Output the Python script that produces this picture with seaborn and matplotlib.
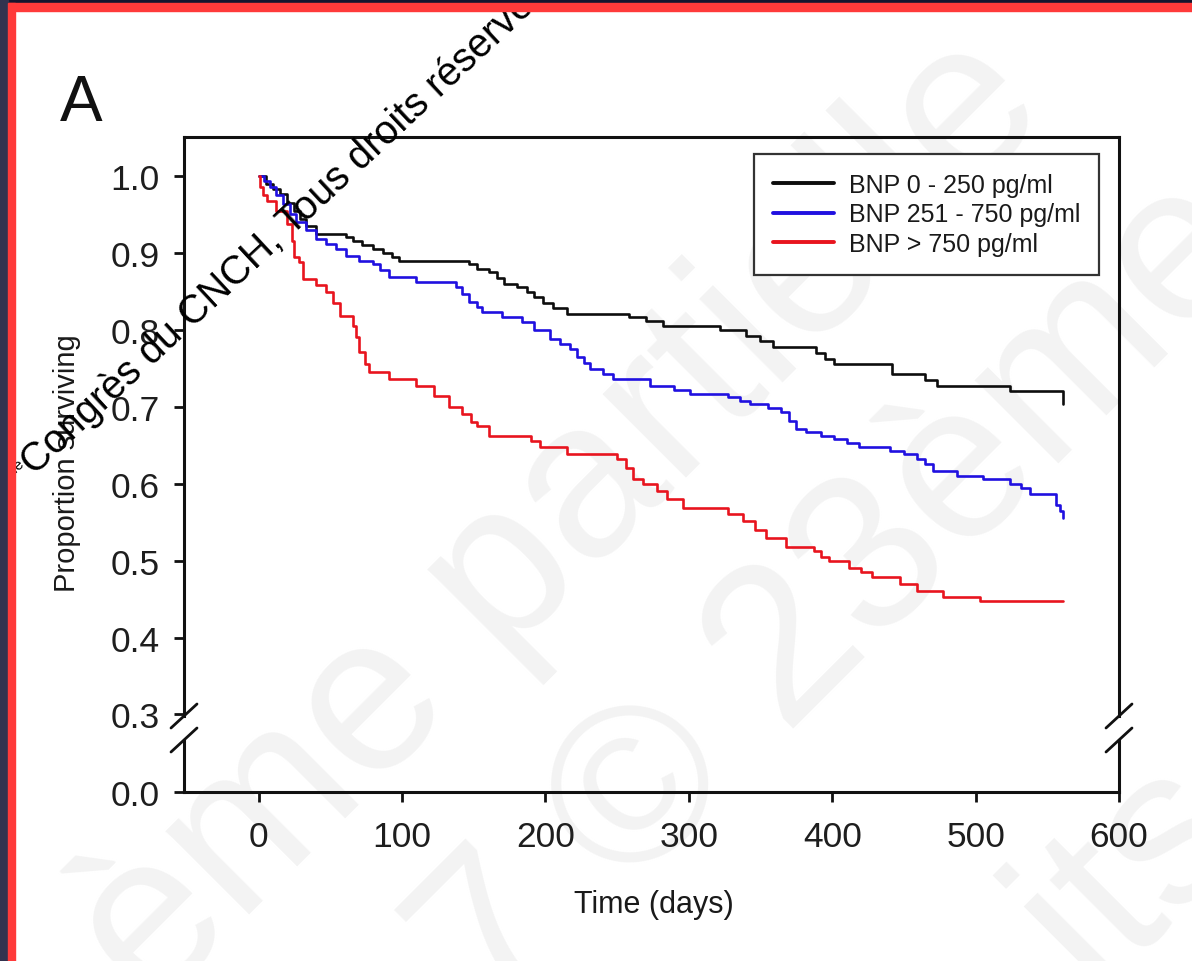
import matplotlib
matplotlib.use('Agg')
import matplotlib.pyplot as plt
from matplotlib.lines import Line2D
from matplotlib.patches import Rectangle
import pandas as pd
import seaborn as sns

# Kaplan-Meier curves (days, proportion surviving)
black_days = [0, 5, 10, 15, 20, 25, 29, 33, 40, 61, 66, 72, 80, 87, 93, 98, 147, 152, 161, 166,
              171, 180, 187, 192, 198, 205, 215, 258, 270, 282, 322, 340, 350, 359, 389, 395,
              401, 442, 465, 473, 524, 561]
black_surv = [1.0, 0.99, 0.983, 0.977, 0.965, 0.955, 0.944, 0.935, 0.925, 0.92, 0.915, 0.91,
              0.905, 0.9, 0.894, 0.889, 0.885, 0.879, 0.875, 0.867, 0.86, 0.855, 0.849, 0.842,
              0.835, 0.828, 0.821, 0.817, 0.812, 0.805, 0.8, 0.792, 0.785, 0.778, 0.77, 0.762,
              0.756, 0.742, 0.735, 0.727, 0.72, 0.704]

blue_days = [0, 4, 8, 12, 17, 22, 26, 33, 40, 47, 54, 61, 70, 80, 85, 91, 110, 138, 142, 147,
             152, 156, 170, 184, 192, 203, 210, 217, 222, 227, 231, 240, 247, 273, 290, 301, 327,
             336, 343, 355, 364, 370, 375, 382, 392, 401, 410, 419, 440, 450, 459, 465, 470, 487,
             505, 524, 532, 538, 556, 559, 561]
blue_surv = [1.0, 0.993, 0.985, 0.975, 0.963, 0.95, 0.94, 0.93, 0.918, 0.912, 0.905, 0.896, 0.89,
             0.886, 0.878, 0.869, 0.862, 0.856, 0.846, 0.836, 0.83, 0.823, 0.817, 0.81, 0.8,
             0.788, 0.782, 0.775, 0.765, 0.757, 0.749, 0.742, 0.736, 0.727, 0.722, 0.717, 0.712,
             0.708, 0.704, 0.698, 0.693, 0.682, 0.671, 0.667, 0.662, 0.658, 0.653, 0.648, 0.643,
             0.638, 0.632, 0.625, 0.617, 0.61, 0.606, 0.6, 0.594, 0.587, 0.572, 0.565, 0.555]

red_days = [0, 1, 3, 6, 12, 20, 23, 25, 28, 31, 40, 47, 52, 57, 66, 68, 70, 74, 77, 91, 110, 122,
            133, 142, 148, 152, 161, 190, 196, 215, 250, 256, 261, 268, 278, 285, 296, 327, 338,
            346, 354, 368, 387, 392, 398, 412, 420, 428, 447, 459, 477, 503, 561]
red_surv = [1.0, 0.985, 0.975, 0.967, 0.955, 0.938, 0.915, 0.895, 0.888, 0.866, 0.858, 0.849,
            0.835, 0.818, 0.805, 0.79, 0.771, 0.755, 0.745, 0.736, 0.727, 0.714, 0.7, 0.69, 0.68,
            0.675, 0.662, 0.655, 0.648, 0.639, 0.632, 0.62, 0.606, 0.6, 0.59, 0.58, 0.568, 0.561,
            0.551, 0.54, 0.529, 0.518, 0.512, 0.505, 0.499, 0.49, 0.485, 0.479, 0.47, 0.461,
            0.453, 0.448, 0.448]

groups = ['BNP 0 - 250 pg/ml', 'BNP 251 - 750 pg/ml', 'BNP > 750 pg/ml']
colors = ['#0d0d0d', '#2010e0', '#e8141e']

x_ticks = [0, 100, 200, 300, 400, 500, 600]
y_ticks_top = [0.3, 0.4, 0.5, 0.6, 0.7, 0.8, 0.9, 1.0]

frames = []
for name, d, s in zip(groups, [black_days, blue_days, red_days],
                      [black_surv, blue_surv, red_surv]):
    frames.append(pd.DataFrame({'days': d, 'surv': s, 'group': name}))
df = pd.concat(frames, ignore_index=True)

sns.set_style('ticks')
plt.rcParams['font.family'] = ['Liberation Sans', 'DejaVu Sans']

W, H = 1192, 962
fig = plt.figure(figsize=(W / 100, H / 100), dpi=100)
fig.patch.set_facecolor('white')


def px_rect(l, t, r, b):
    return [l / W, 1 - b / H, (r - l) / W, (b - t) / H]


def fx(x):
    return x / W


def fy(y):
    return 1 - y / H


ax_top = fig.add_axes(px_rect(184, 138, 1119, 717))
ax_bot = fig.add_axes(px_rect(184, 741, 1119, 793))

sns.lineplot(data=df, x='days', y='surv', hue='group', hue_order=groups,
             palette=dict(zip(groups, colors)), estimator=None, errorbar=None,
             drawstyle='steps-post', linewidth=1.9, ax=ax_top)

xlim = (-52, 600)
ax_top.set_xlim(*xlim)
ax_bot.set_xlim(*xlim)
ax_top.set_ylim(0.298, 1.0506)
ax_bot.set_ylim(0, 0.0675)

spine_col = '#111111'
for ax in (ax_top, ax_bot):
    ax.set_facecolor('none')
    ax.set_xlabel('')
    ax.set_ylabel('')
    for sp in ax.spines.values():
        sp.set_linewidth(2.2)
        sp.set_color(spine_col)
        sp.set_visible(True)
    ax.tick_params(axis='both', direction='out', length=7, width=2.0, color=spine_col,
                   labelsize=25.5, labelcolor='#1e1e1e')
    ax.tick_params(axis='y', pad=10.5, right=False)
    ax.tick_params(axis='x', pad=13, top=False)

ax_top.spines['bottom'].set_visible(False)
ax_bot.spines['top'].set_visible(False)

ax_top.set_yticks(y_ticks_top)
ax_top.set_yticklabels([f'{v:.1f}' for v in y_ticks_top])
ax_top.tick_params(axis='x', bottom=False, labelbottom=False)

ax_bot.set_yticks([0.0])
ax_bot.set_yticklabels(['0.0'])
ax_bot.set_xticks(x_ticks)
ax_bot.set_xticklabels([str(v) for v in x_ticks])

# axis break marks
for xs in (184, 1119):
    for yc in (717, 741):
        fig.add_artist(Line2D([fx(xs - 13), fx(xs + 13)], [fy(yc + 12), fy(yc - 12)],
                              color=spine_col, lw=2.0, transform=fig.transFigure))

# legend
handles, labels = ax_top.get_legend_handles_labels()
leg = ax_top.legend(handles, labels, loc='upper right',
                    bbox_to_anchor=(fx(1099), fy(155)), bbox_transform=fig.transFigure,
                    borderaxespad=0, fontsize=18, frameon=True, fancybox=False,
                    framealpha=1, edgecolor='#333333', borderpad=0.75,
                    labelspacing=0.22, handlelength=2.45, handletextpad=0.6)
leg.get_frame().set_linewidth(1.6)
for line in leg.get_lines():
    line.set_linewidth(2.8)
for t in leg.get_texts():
    t.set_color('#1a1a1a')

# labels
fig.text(fx(67), fy(463), 'Proportion surviving', rotation=90, ha='center', va='center',
         fontsize=21, color='#1a1a1a')
fig.text(fx(654), fy(905), 'Time (days)', ha='center', va='center', fontsize=22,
         color='#1a1a1a')
fig.text(fx(60), fy(104), 'A', ha='left', va='center', fontsize=46, color='#111111')

# faint background watermark
wm_gray = '#f3f3f3'
fig.text(fx(560), fy(520), 'ème partielle', rotation=45, rotation_mode='anchor',
         ha='center', va='center', fontsize=160, color=wm_gray, zorder=-1)
fig.text(fx(840), fy(600), '7 © 23ème', rotation=45, rotation_mode='anchor',
         ha='center', va='center', fontsize=160, color=wm_gray, zorder=-1)
fig.text(fx(1130), fy(870), 'its', rotation=45, rotation_mode='anchor',
         ha='center', va='center', fontsize=160, color=wm_gray, zorder=-1)

# black copyright watermark
fig.text(fx(22), fy(462), 'ème', rotation=43, rotation_mode='anchor', ha='right',
         va='center', fontsize=11, color='black', zorder=10)
fig.text(fx(27), fy(468), 'Congrès du CNCH, Tous droits réservés', rotation=43,
         rotation_mode='anchor', ha='left', va='center', fontsize=28.5, color='black',
         zorder=10)

# slide frame: dark band and red border on top and left
fig.add_artist(Rectangle((0, fy(4)), 1, 4 / H, transform=fig.transFigure,
                         color='#15152e', zorder=20))
fig.add_artist(Rectangle((0, fy(12)), 1, 8 / H, transform=fig.transFigure,
                         color='#ff3a3a', zorder=20))
fig.add_artist(Rectangle((0, 0), 8 / W, 1, transform=fig.transFigure,
                         color='#33334f', zorder=21))
fig.add_artist(Rectangle((8 / W, 0), 7 / W, fy(4), transform=fig.transFigure,
                         color='#ff3a3a', zorder=21))

fig.savefig('out.png', dpi=100)
